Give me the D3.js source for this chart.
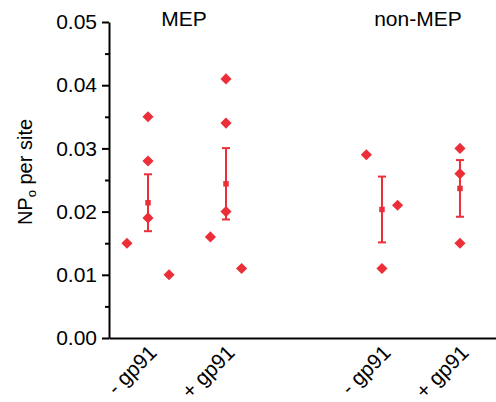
<!DOCTYPE html>
<html>
<head>
<meta charset="utf-8">
<script src="https://cdn.jsdelivr.net/npm/d3@7"></script>
<style>
  html, body { margin: 0; padding: 0; background: #fff; }
  svg { display: block; font-family: "Liberation Sans", Arial, Helvetica, sans-serif; }
</style>
</head>
<body>
<svg id="chart" width="496" height="402"></svg>
<script>
// Panels and conditions
const panels = ["MEP", "non-MEP"];
const conditions = ["- gp91", "+ gp91"];
// Category position of each group on the x axis (panel, condition, position)
const groupPanel = ["MEP", "MEP", "non-MEP", "non-MEP"];
const groupCondition = ["- gp91", "+ gp91", "- gp91", "+ gp91"];
const groupPosition = [1, 2, 4, 5];

// Individual NPo values per site for each group
const mepMinus = [0.015, 0.035, 0.028, 0.019, 0.010];
const mepPlus = [0.016, 0.041, 0.034, 0.020, 0.011];
const nonMepMinus = [0.029, 0.011, 0.021];
const nonMepPlus = [0.030, 0.026, 0.015];
const groupValues = [mepMinus, mepPlus, nonMepMinus, nonMepPlus];

// Side-by-side spread of the points in each group (category units)
const mepMinusSpread = [-0.27, 0, 0, 0, 0.27];
const mepPlusSpread = [-0.2, 0, 0, 0, 0.2];
const nonMepMinusSpread = [-0.2, 0, 0.2];
const nonMepPlusSpread = [0, 0, 0];
const groupSpread = [mepMinusSpread, mepPlusSpread, nonMepMinusSpread, nonMepPlusSpread];

// Y axis ticks
const yTicks = [0, 0.01, 0.02, 0.03, 0.04, 0.05];
const yMinorTicks = [0.005, 0.015, 0.025, 0.035, 0.045];

const red = "#ec2e38";
const svg = d3.select("#chart");

const x = d3.scaleLinear().domain([0.5, 5.462]).range([109, 496]);
const y = d3.scaleLinear().domain([0, 0.05]).range([338, 22]);

// Minor ticks
svg.append("g")
  .attr("transform", "translate(109,0)")
  .call(d3.axisLeft(y).tickValues(yMinorTicks).tickSize(4).tickFormat(""))
  .call(g => g.select(".domain").remove())
  .call(g => g.selectAll("line").attr("stroke", "#000").attr("stroke-width", 2));

// Y axis
const yAxis = svg.append("g")
  .attr("transform", "translate(109,0)")
  .call(d3.axisLeft(y).tickValues(yTicks).tickSize(7).tickSizeOuter(0).tickPadding(5).tickFormat(d3.format(".2f")));
yAxis.select(".domain").attr("stroke", "#000").attr("stroke-width", 2);
yAxis.selectAll(".tick line").attr("stroke", "#000").attr("stroke-width", 2);
yAxis.selectAll(".tick text")
  .attr("font-size", 21)
  .attr("font-family", "Liberation Sans, Arial, sans-serif")
  .attr("fill", "#000");

// X axis line (no ticks)
const xAxis = svg.append("g")
  .attr("transform", "translate(0,338)")
  .call(d3.axisBottom(x).tickValues([]).tickSizeOuter(0));
xAxis.select(".domain").attr("stroke", "#000").attr("stroke-width", 2);

// Condition labels, rotated
svg.append("g").selectAll("text")
  .data(groupPosition)
  .join("text")
  .attr("transform", (p) => `translate(${x(p) + 10},354) rotate(-45)`)
  .attr("text-anchor", "end")
  .attr("font-size", 21)
  .attr("fill", "#000")
  .text((p, i) => groupCondition[i]);

// Panel titles above each pair of groups
panels.forEach(panel => {
  const pos = groupPosition.filter((p, i) => groupPanel[i] === panel);
  svg.append("text")
    .attr("x", x(d3.mean(pos)) - 3)
    .attr("y", 26)
    .attr("text-anchor", "middle")
    .attr("font-size", 21)
    .attr("fill", "#000")
    .text(panel);
});

// Y axis title with subscript
const yTitle = svg.append("text")
  .attr("transform", "translate(32,172) rotate(-90)")
  .attr("text-anchor", "middle")
  .attr("font-size", 20)
  .attr("fill", "#000");
yTitle.append("tspan").text("NP");
yTitle.append("tspan").attr("font-size", 13).attr("dy", 4).text("o");
yTitle.append("tspan").attr("dy", -4).text(" per site");

// Individual points (diamonds)
const diamond = d3.symbol().type(d3.symbolSquare).size(62);
const points = [];
groupValues.forEach((vals, gi) => {
  vals.forEach((v, j) => points.push({ pos: groupPosition[gi] + groupSpread[gi][j], v }));
});
svg.append("g").selectAll("path")
  .data(points)
  .join("path")
  .attr("d", diamond)
  .attr("transform", d => `translate(${x(d.pos)},${y(d.v)}) rotate(45)`)
  .attr("fill", red);

// Mean ± SEM
const stats = groupValues.map((vals, gi) => {
  const m = d3.mean(vals);
  const sem = d3.deviation(vals) / Math.sqrt(vals.length);
  return { pos: groupPosition[gi], m, lo: m - sem, hi: m + sem };
});
const eb = svg.append("g").attr("stroke", red).attr("stroke-width", 2);
eb.selectAll(".stem").data(stats).join("line")
  .attr("x1", d => x(d.pos)).attr("x2", d => x(d.pos))
  .attr("y1", d => y(d.lo)).attr("y2", d => y(d.hi));
eb.selectAll(".capHi").data(stats).join("line")
  .attr("x1", d => x(d.pos) - 4).attr("x2", d => x(d.pos) + 4)
  .attr("y1", d => y(d.hi)).attr("y2", d => y(d.hi));
eb.selectAll(".capLo").data(stats).join("line")
  .attr("x1", d => x(d.pos) - 4).attr("x2", d => x(d.pos) + 4)
  .attr("y1", d => y(d.lo)).attr("y2", d => y(d.lo));
svg.append("g").selectAll("path")
  .data(stats)
  .join("path")
  .attr("d", d3.symbol().type(d3.symbolSquare).size(30))
  .attr("transform", d => `translate(${x(d.pos)},${y(d.m)})`)
  .attr("fill", red);
</script>
</body>
</html>
